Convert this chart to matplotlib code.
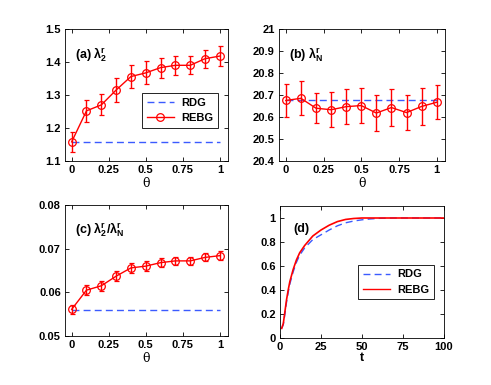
import matplotlib
matplotlib.use('Agg')
import matplotlib.pyplot as plt
from matplotlib.lines import Line2D

plt.rcParams['font.family'] = ['Liberation Sans', 'DejaVu Sans']
plt.rcParams['font.weight'] = 'bold'
plt.rcParams['mathtext.fontset'] = 'custom'
plt.rcParams['mathtext.rm'] = 'Liberation Sans:bold'
plt.rcParams['mathtext.it'] = 'DejaVu Serif'
plt.rcParams['mathtext.default'] = 'regular'

# ---------- data ----------
theta = [0, 0.1, 0.2, 0.3, 0.4, 0.5, 0.6, 0.7, 0.8, 0.9, 1.0]

lam2_rebg = [1.158, 1.252, 1.270, 1.315, 1.356, 1.367, 1.383, 1.390, 1.390, 1.410, 1.418]
lam2_err = [0.031, 0.033, 0.032, 0.036, 0.036, 0.035, 0.030, 0.029, 0.027, 0.027, 0.030]
lam2_rdg = 1.158

lamN_rebg = [20.675, 20.685, 20.640, 20.633, 20.647, 20.652, 20.618, 20.643, 20.620, 20.648, 20.667]
lamN_err = [0.077, 0.077, 0.069, 0.079, 0.079, 0.079, 0.082, 0.083, 0.081, 0.083, 0.078]
lamN_rdg = 20.675

ratio_rebg = [0.0561, 0.0605, 0.0615, 0.0637, 0.0656, 0.0660, 0.0668, 0.0672, 0.0672, 0.0680, 0.0684]
ratio_err = [0.0011, 0.0012, 0.0011, 0.0012, 0.0012, 0.0012, 0.0011, 0.0010, 0.0009, 0.0009, 0.0010]
ratio_rdg = 0.0560

t = [1, 2, 3, 4, 5, 6, 8, 10, 12, 15, 20, 25, 30, 35, 40, 45, 50, 55, 60, 70, 80, 90, 100]
sync_rdg = [0.08, 0.11, 0.20, 0.30, 0.38, 0.45, 0.55, 0.63, 0.69, 0.75, 0.82, 0.86, 0.90,
            0.935, 0.96, 0.975, 0.985, 0.992, 0.997, 1.0, 1.0, 1.0, 1.0]
sync_rebg = [0.08, 0.12, 0.22, 0.32, 0.40, 0.47, 0.57, 0.65, 0.71, 0.77, 0.85, 0.90, 0.94,
             0.97, 0.988, 0.996, 1.0, 1.0, 1.0, 1.0, 1.0, 1.0, 1.0]

blue = '#3b5bff'
red = '#ff0000'

fig = plt.figure(figsize=(4.91, 3.85), dpi=100)
W, H = 491, 385

def add_ax(l, r, top, bot):
    return fig.add_axes([l / W, 1 - bot / H, (r - l) / W, (bot - top) / H])

ax_a = add_ax(65, 228, 29, 161)
ax_b = add_ax(279, 445, 29, 161)
ax_c = add_ax(65, 228, 205, 336)
ax_d = add_ax(280, 444, 206, 338)

def style(ax):
    ax.tick_params(direction='in', top=True, right=True, labelsize=8, length=3, width=0.6, pad=3)
    for s in ax.spines.values():
        s.set_linewidth(0.6)
    for lab in ax.get_xticklabels() + ax.get_yticklabels():
        lab.set_fontweight('bold')

def theta_panel(ax, vals, err, rdg, label, ylim, yticks, ylabels):
    ax.plot([0, 1], [rdg, rdg], '--', color=blue, lw=1.0, dashes=(5, 3))
    ax.errorbar(theta, vals, yerr=err, color=red, lw=1.0, marker='o', ms=5.5,
                mfc='none', mec=red, mew=0.9, capsize=1.8, elinewidth=1.0,
                capthick=1.0)
    ax.set_xlim(-0.045, 1.055)
    ax.set_ylim(*ylim)
    ax.set_yticks(yticks)
    ax.set_yticklabels(ylabels)
    ax.set_xticks([0, 0.25, 0.5, 0.75, 1])
    ax.set_xticklabels(['0', '0.25', '0.5', '0.75', '1'])
    ax.set_xlabel('θ', fontsize=9, labelpad=1, fontweight='normal',
                  family='DejaVu Serif')
    ax.text(0.06, 0.78, label, transform=ax.transAxes, fontsize=9, fontweight='bold')
    style(ax)

theta_panel(ax_a, lam2_rebg, lam2_err, lam2_rdg, r'(a) $\lambda_2^r$',
            (1.1, 1.5), [1.1, 1.2, 1.3, 1.4, 1.5], ['1.1', '1.2', '1.3', '1.4', '1.5'])
theta_panel(ax_b, lamN_rebg, lamN_err, lamN_rdg, r'(b) $\lambda_N^r$',
            (20.4, 21.0), [20.4, 20.5, 20.6, 20.7, 20.8, 20.9, 21.0],
            ['20.4', '20.5', '20.6', '20.7', '20.8', '20.9', '21'])
theta_panel(ax_c, ratio_rebg, ratio_err, ratio_rdg, r'(c) $\lambda_2^r/\lambda_N^r$',
            (0.05, 0.08), [0.05, 0.06, 0.07, 0.08], ['0.05', '0.06', '0.07', '0.08'])

def add_legend(ax, marker, y0):
    handles = [Line2D([], [], color=blue, lw=1.0, ls='--', dashes=(5, 3)),
               Line2D([], [], color=red, lw=1.0, marker=marker, ms=5.5, mfc='none', mew=0.9)]
    leg = ax.legend(handles, ['RDG', 'REBG'], loc='lower right', bbox_to_anchor=(0.97, y0),
                    prop={'weight': 'bold', 'size': 8}, fancybox=False, framealpha=1,
                    edgecolor='black', handlelength=2.5, borderpad=0.4, labelspacing=0.5,
                    handletextpad=0.6)
    leg.get_frame().set_linewidth(0.6)

add_legend(ax_a, 'o', 0.21)

# panel d
ax_d.plot(t, sync_rdg, '--', color=blue, lw=1.0, dashes=(5, 3))
ax_d.plot(t, sync_rebg, '-', color=red, lw=1.2)
ax_d.set_xlim(0, 100)
ax_d.set_ylim(0, 1.1)
ax_d.set_xticks([0, 25, 50, 75, 100])
ax_d.set_yticks([0, 0.2, 0.4, 0.6, 0.8, 1.0])
ax_d.set_yticklabels(['0', '0.2', '0.4', '0.6', '0.8', '1'])
ax_d.set_xlabel('t', fontsize=9, fontweight='bold', labelpad=0)
ax_d.text(0.08, 0.8, '(d)', transform=ax_d.transAxes, fontsize=9, fontweight='bold')
style(ax_d)
add_legend(ax_d, None, 0.25)

fig.savefig('out.png', dpi=100)
